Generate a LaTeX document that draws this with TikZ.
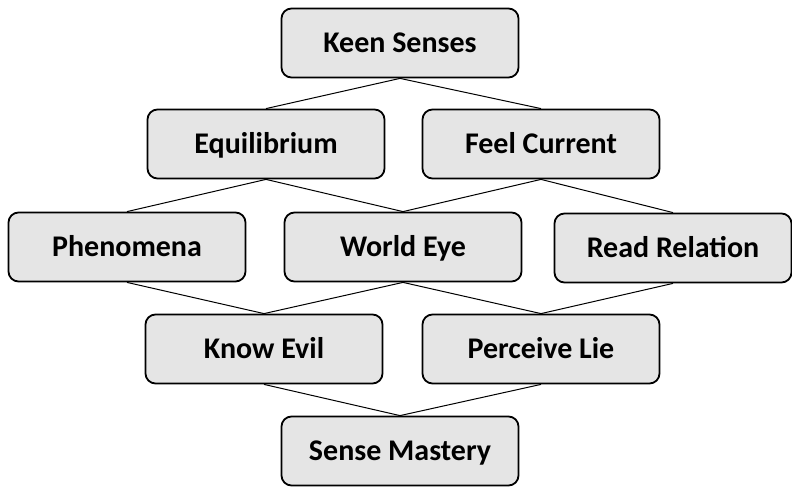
\documentclass[tikz,border=0pt]{standalone}
\usepackage{fontspec}
\setmainfont{Carlito}
\begin{document}
\begin{tikzpicture}[x=1pt,y=-1pt,
    skill/.style={shape=rectangle,rounded corners=10pt,draw=black,line width=1.8pt,
      fill=black!10,minimum width=237pt,minimum height=69pt,
      text height=24pt,text depth=5pt,inner sep=2pt,
      font=\fontsize{30}{34}\selectfont\bfseries},
    link/.style={line width=1pt}]
    \useasboundingbox (0,0) rectangle (792,487);
    \node[skill] (KS) at (400,43) {Keen Senses};
    \node[skill] (EQ) at (266,144) {Equilibrium};
    \node[skill] (FC) at (541,144) {Feel Current};
    \node[skill] (PH) at (127,247) {Phenomena};
    \node[skill] (WE) at (403,247) {World Eye};
    \node[skill] (RR) at (673,248) {Read Relation};
    \node[skill] (KE) at (264,349) {Know Evil};
    \node[skill] (PL) at (541,349) {Perceive Lie};
    \node[skill] (SM) at (400,451) {Sense Mastery};
    \path [link](KS.south) edge node {} (EQ.north);
    \path [link](KS.south) edge node {} (FC.north);
    \path [link](EQ.south) edge node {} (PH.north);
    \path [link](EQ.south) edge node {} (WE.north);
    \path [link](FC.south) edge node {} (WE.north);
    \path [link](FC.south) edge node {} (RR.north);
    \path [link](PH.south) edge node {} (KE.north);
    \path [link](WE.south) edge node {} (KE.north);
    \path [link](WE.south) edge node {} (PL.north);
    \path [link](RR.south) edge node {} (PL.north);
    \path [link](KE.south) edge node {} (SM.north);
    \path [link](PL.south) edge node {} (SM.north);
  \end{tikzpicture}
\end{document}
